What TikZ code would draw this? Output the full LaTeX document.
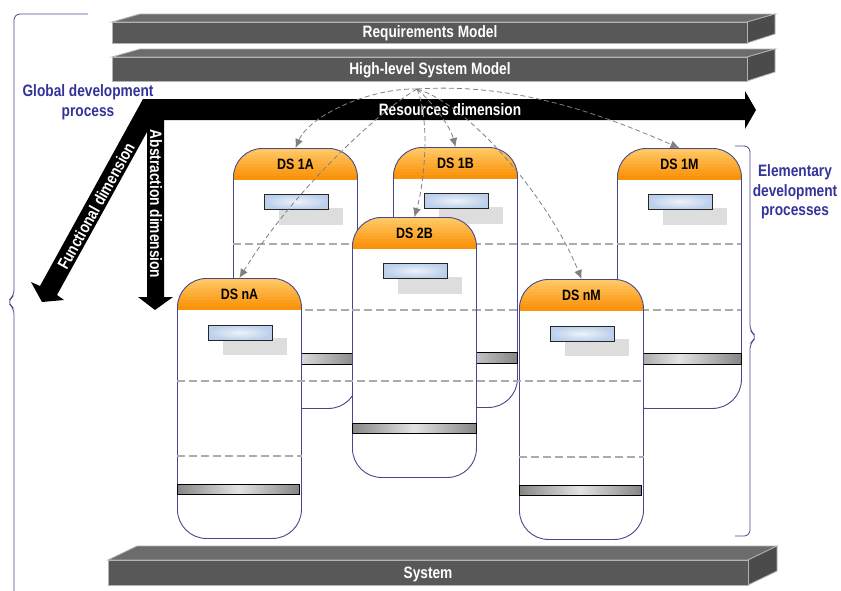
\documentclass[tikz,border=0pt]{standalone}
\usepackage{fontspec}
\setmainfont{Liberation Sans}[FakeStretch=0.83]
\usetikzlibrary{arrows.meta}
\definecolor{dsline}{RGB}{72,72,140}
\definecolor{bluetxt}{RGB}{51,51,153}
\definecolor{slabgray}{RGB}{88,88,88}
\definecolor{orangetop}{RGB}{255,200,100}
\definecolor{orangebot}{RGB}{250,140,0}
\definecolor{rectblue}{RGB}{188,208,235}
\definecolor{shadowgray}{RGB}{221,221,221}
\begin{document}
\begin{tikzpicture}[x=1pt,y=-1pt,
  slab/.style={fill=slabgray,draw=gray!60,line width=0.8pt},
  slabtop/.style={fill=slabgray!88!white,draw=gray!60,line width=0.8pt},
  slabside/.style={fill=slabgray!85!black,draw=gray!60,line width=0.8pt},
  whitetxt/.style={text=white,font=\fontsize{16.5}{18}\selectfont\bfseries,inner sep=0pt},
  bluetext/.style={text=bluetxt,font=\fontsize{16.5}{19.5}\selectfont\bfseries,align=center,inner sep=0pt},
  dsbox/.style={draw=dsline,line width=0.9pt,fill=white,rounded corners=29pt,
    minimum width=124pt,minimum height=260pt,inner sep=0pt,anchor=north west,
    path picture={\foreach \k in {0,...,9}
      \fill[sharp corners,orangebot!\k0!orangetop]
      ([yshift={-\k*3.1pt}]path picture bounding box.north west) rectangle ([yshift={-(\k+1)*3.1pt-0.3pt}]path picture bounding box.north east);}},
  dslabel/.style={font=\fontsize{15}{16}\selectfont\bfseries,inner sep=0pt},
  bluerect/.style={draw=black!85,line width=0.7pt,inner color=rectblue!25,outer color=rectblue},
  graybar/.style={draw=black,line width=0.7pt,left color=gray!95,right color=gray!95,middle color=gray!22},
  boxdash/.style={draw=gray!65,dash pattern=on 8pt off 4pt,line width=1.1pt},
  link/.style={draw=gray,dash pattern=on 5pt off 3pt,line width=0.8pt,-{Latex[length=9pt,width=8pt]}},
  brace/.style={draw=dsline,line width=0.8pt,rounded corners=6pt}]
\useasboundingbox (0,0) rectangle (841,590);
% model slabs
\fill[slabtop] (112,22) -- (140,14) -- (775,14) -- (747,22) -- cycle;
\fill[slabside] (747,22) -- (775,14) -- (775,34) -- (747,43) -- cycle;
\fill[slab] (112,22) rectangle (747,43);
\node[whitetxt] (req) at (430,33) {Requirements Model};
\fill[slabtop] (112,57) -- (140,49) -- (775,49) -- (747,57) -- cycle;
\fill[slabside] (747,57) -- (775,49) -- (775,72) -- (747,81) -- cycle;
\fill[slab] (112,57) rectangle (747,81);
\node[whitetxt] (hls) at (430,70) {High-level System Model};
% dimensions
\fill (143,99) -- (745,99) -- (745,91) -- (756,110) -- (745,129) -- (745,120) -- (164,120) -- (164,297)
  -- (173,297) -- (155,310) -- (138,297) -- (147,297) -- (147,132) -- (57,295) -- (64,300) -- (42,302)
  -- (31,282) -- (40,286) -- cycle;
\node[whitetxt] (res) at (450,110) {Resources dimension};
\node[whitetxt,rotate=-90] (abs) at (156,204) {Abstraction dimension};
\node[whitetxt,rotate=61] (fun) at (96,206) {Functional dimension};
% braces
\draw[brace] (88,14) -- (14,14) -- (14,296) -- (7,302) -- (14,308) -- (14,598) -- (88,598);
\draw[brace] (735,146) -- (750,146) -- (750,331) -- (757,337) -- (750,343) -- (750,536) -- (735,536);
\node[bluetext] (glob) at (88,102) {Global development\\process};
\node[bluetext] (elem) at (795,192) {Elementary\\development\\processes};
% back row
\foreach \n/\x/\y in {1A/233/148,1B/393/147,1M/617/148}{
  \node[dsbox] (b\n) at (\x,\y) {};
  \node[dslabel] (l\n) at ([yshift=-16pt]b\n.north) {DS \n};
  \fill[shadowgray] ([shift={(46pt,-60pt)}]b\n.north west) rectangle +(64pt,-17pt);
  \draw[bluerect] ([shift={(31pt,-46pt)}]b\n.north west) rectangle +(64pt,-15pt);
  \draw[graybar] ([yshift=-205pt]b\n.north west) rectangle +(124pt,-11pt);
}
\draw[boxdash] (233,244) -- (741,244);
\draw[boxdash] (233,310) -- (741,310);
% middle row
\node[dsbox] (b2B) at (352,217) {};
\node[dslabel] (l2B) at ([yshift=-16pt]b2B.north) {DS 2B};
\fill[shadowgray] ([shift={(46pt,-60pt)}]b2B.north west) rectangle +(64pt,-17pt);
\draw[bluerect] ([shift={(31pt,-46pt)}]b2B.north west) rectangle +(64pt,-15pt);
\draw[graybar] ([yshift=-206pt]b2B.north west) rectangle +(124pt,-10pt);
\draw[boxdash] (352,310) -- (476,310);
% front row
\foreach \n/\x/\y in {nA/177/278,nM/519/279}{
  \node[dsbox] (b\n) at (\x,\y) {};
  \node[dslabel] (l\n) at ([yshift=-16pt]b\n.north) {DS \n};
  \fill[shadowgray] ([shift={(46pt,-60pt)}]b\n.north west) rectangle +(64pt,-17pt);
  \draw[bluerect] ([shift={(31pt,-47pt)}]b\n.north west) rectangle +(64pt,-15pt);
  \draw[graybar] ([yshift=-206pt]b\n.north west) rectangle +(122pt,-10pt);
  \draw[boxdash] ([yshift=-178pt]b\n.north west) -- ([yshift=-178pt]b\n.north east);
}
\draw[boxdash] (177,381) -- (643,381);
% links from the high-level model
\coordinate (src) at (417,89);
\draw[link] (src) .. controls (370,88) and (310,115) .. (b1A.north);
\draw[link] (src) .. controls (380,110) and (292,192) .. (bnA.north);
\draw[link] (src) .. controls (430,120) and (425,180) .. (b2B.north);
\draw[link] (src) .. controls (430,100) and (450,125) .. (b1B.north);
\draw[link] (src) .. controls (470,105) and (550,200) .. (bnM.north);
\draw[link] (src) .. controls (520,82) and (610,118) .. (b1M.north);
% system slab
\fill[slabtop] (108,560) -- (137,546) -- (777,546) -- (748,560) -- cycle;
\fill[slabside] (748,560) -- (777,546) -- (777,571) -- (748,585) -- cycle;
\fill[slab] (108,560) rectangle (748,585);
\node[whitetxt] (sys) at (428,574) {System};
\end{tikzpicture}
\end{document}
